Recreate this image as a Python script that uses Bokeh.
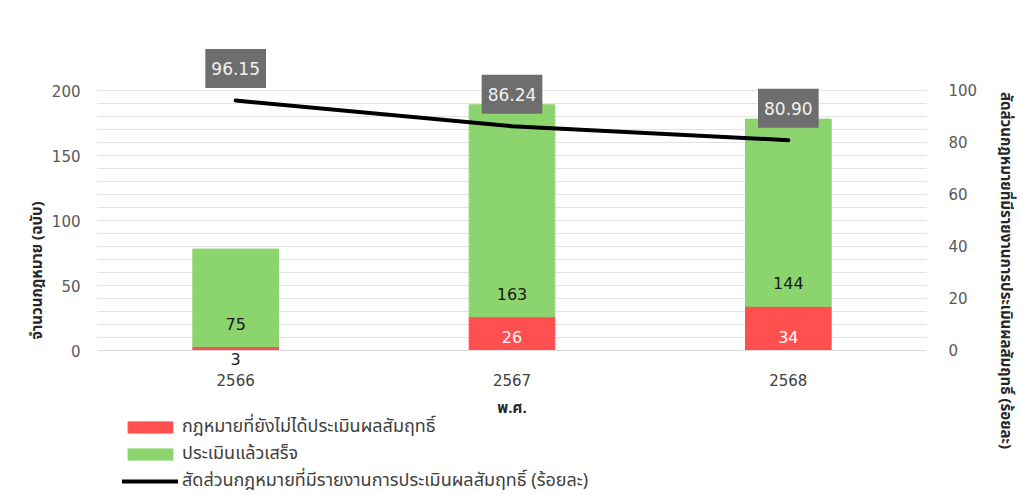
from bokeh.plotting import figure
from bokeh.models import (Range1d, LinearAxis, FixedTicker, Legend,
                          LegendItem, LabelSet, Label, ColumnDataSource)
from bokeh.core.properties import value
from bokeh.embed import file_html
from bokeh.resources import INLINE

years = ["2566", "2567", "2568"]
not_evaluated = [3, 26, 34]
evaluated = [75, 163, 144]
pct_reported = [96.15, 86.24, 80.90]
left_ticks = [0, 50, 100, 150, 200]
right_ticks = [0, 20, 40, 60, 80, 100]

name_not = "กฎหมายที่ยังไม่ได้ประเมินผลสัมฤทธิ์"
name_eval = "ประเมินแล้วเสร็จ"
name_pct = "สัดส่วนกฎหมายที่มีรายงานการประเมินผลสัมฤทธิ์ (ร้อยละ)"
left_title = "จำนวนกฎหมาย (ฉบับ)"
right_title = "สัดส่วนกฎหมายที่มีรายงานการประเมินผลสัมฤทธิ์ (ร้อยละ)"
x_title = "พ.ศ."

RED = "#FF5050"
GREEN = "#8CD46E"
NUM_FONT = "DejaVu Sans"
THAI_FONT = "Tahoma, 'Noto Sans Thai', 'Noto Sans', sans-serif"

src = ColumnDataSource(dict(
    year=years,
    not_eval=not_evaluated,
    evaluated=evaluated,
    pct=pct_reported,
    not_txt=[str(v) for v in not_evaluated],
    eval_txt=[str(v) for v in evaluated],
    not_y=[0] * len(years),
    not_off=[14 if v >= 10 else -8 for v in not_evaluated],
    not_col=["white" if v >= 10 else "#1a1a1a" for v in not_evaluated],
))

p = figure(x_range=years, width=1020, height=494, output_backend="svg",
           toolbar_location=None, min_border_left=97, min_border_right=84,
           min_border_top=46, min_border_bottom=0)
p.y_range = Range1d(-110.77, 233.85)
p.extra_y_ranges = {"pct": Range1d(-55.385, 116.92)}
p.outline_line_color = None
p.background_fill_color = "white"
p.border_fill_color = "white"

bars = p.vbar_stack(["not_eval", "evaluated"], x="year", width=0.31,
                    color=[RED, GREEN], source=src)
line = p.line(x="year", y="pct", y_range_name="pct", source=src,
              line_width=4, line_color="black", line_cap="round")

# grid
p.xgrid.visible = False
p.ygrid.ticker = FixedTicker(ticks=list(range(10, 201, 10)))
p.ygrid.grid_line_color = "#E3E3E3"

# left axis
ya = p.yaxis[0]
ya.ticker = FixedTicker(ticks=left_ticks)
ya.axis_line_color = None
ya.major_tick_line_color = None
ya.minor_tick_line_color = None
ya.major_tick_out = 0
ya.major_label_standoff = 17
ya.major_label_text_font = NUM_FONT
ya.major_label_text_font_size = "15px"
ya.major_label_text_color = "#595959"
ya.axis_label = left_title
ya.axis_label_text_font = THAI_FONT
ya.axis_label_text_font_size = "15px"
ya.axis_label_text_font_style = "bold"
ya.axis_label_text_color = "#262626"
ya.axis_label_standoff = 0

# right axis
ra = LinearAxis(y_range_name="pct", ticker=FixedTicker(ticks=right_ticks))
ra.axis_line_color = None
ra.major_tick_line_color = None
ra.minor_tick_line_color = None
ra.major_tick_out = 0
ra.major_label_standoff = 22
ra.major_label_text_font = NUM_FONT
ra.major_label_text_font_size = "15px"
ra.major_label_text_color = "#595959"
ra.axis_label = right_title
ra.axis_label_text_font = THAI_FONT
ra.axis_label_text_font_size = "15px"
ra.axis_label_text_font_style = "bold"
ra.axis_label_text_color = "#262626"
ra.axis_label_standoff = 14
if "axis_label_orientation" in ra.properties():
    ra.axis_label_orientation = "vertical"
p.add_layout(ra, "right")

# x axis, drawn at the zero line
xa = p.xaxis[0]
xa.fixed_location = 0
xa.axis_line_color = "#D9D9D9"
xa.major_tick_line_color = None
xa.major_tick_out = 0
xa.major_label_standoff = 23
xa.major_label_text_font = NUM_FONT
xa.major_label_text_font_size = "15px"
xa.major_label_text_color = "#404040"
xa.axis_label = x_title
xa.axis_label_text_font = THAI_FONT
xa.axis_label_text_font_size = "15px"
xa.axis_label_text_font_style = "bold"
xa.axis_label_text_color = "#262626"
xa.axis_label_standoff = 8

# value labels on bars
p.add_layout(LabelSet(x="year", y="not_eval", text="eval_txt", source=src,
                      y_offset=23, text_align="center", text_baseline="middle",
                      text_font=value(NUM_FONT), text_font_size="16px",
                      text_color="#1a1a1a"))
p.add_layout(LabelSet(x="year", y="not_y", text="not_txt", source=src,
                      y_offset="not_off", text_align="center", text_baseline="middle",
                      text_font=value(NUM_FONT), text_font_size="16px",
                      text_color="not_col"))

# percentage boxes (categorical synthetic coordinate = index + 0.5)
for i, v in enumerate(pct_reported):
    p.add_layout(Label(x=i + 0.5, y=v, y_range_name="pct", text=f"{v:.2f}",
                       y_offset=32, text_align="center", text_baseline="middle",
                       text_font=NUM_FONT, text_font_size="17px", text_color="#F2F2F2",
                       background_fill_color="#6E6E6E",
                       padding=dict(left=6, right=6, top=13, bottom=13)))

legend = Legend(items=[LegendItem(label=name_not, renderers=[bars[0]]),
                       LegendItem(label=name_eval, renderers=[bars[1]]),
                       LegendItem(label=name_pct, renderers=[line])],
                location=(25, 0), orientation="vertical",
                glyph_width=56, glyph_height=14, label_height=20, spacing=0,
                label_standoff=4, padding=0, margin=0,
                border_line_color=None, background_fill_alpha=0,
                label_text_font=THAI_FONT, label_text_font_size="18px",
                label_text_color="#404040")
p.add_layout(legend)

open("out.html", "w").write(file_html(p, INLINE))
